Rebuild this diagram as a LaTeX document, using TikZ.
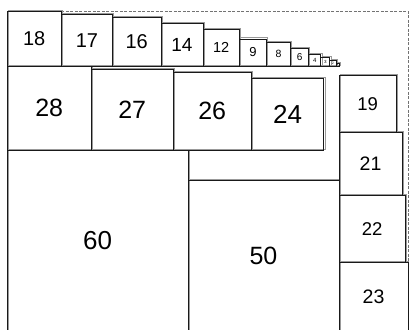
\documentclass[tikz,border=0pt]{standalone}
\usepackage{fontspec}
\setmainfont{Liberation Sans}
\begin{document}
\begin{tikzpicture}[x=3.017pt,y=-3.017pt,
  sqbox/.style={draw=black!90, line width=0.7pt},
  shadow/.style={draw=black!40, line width=0.6pt},
  frame/.style={draw=black!55, dashed, line width=0.6pt, dash pattern=on 3pt off 1.5pt}]
\useasboundingbox (-2.32,-21.88) rectangle (133.24,87.2);
\draw[frame] (18,-18) -- (133.1,-18) -- (133.1,90);
\foreach \x/\y/\s/\f in {0/-18/18/20, 18/-17/17/20, 35/-16/16/20, 51/-14/14/19,
  65/-12/12/14.5, 77/-9/9/13, 86/-8/8/10.5, 94/-6/6/10, 100/-4/4/6, 104/-3/3/4.5,
  107/-2/2/3.5, 109/-1/1/2,
  0/0/28/25, 28/1/27/25, 55/2/26/25, 81/4/24/26,
  110/3/19/18.5, 110/22/21/19.5, 110/43/22/18.5, 110/65/23/19.5,
  0/28/60/26, 60/38/50/25}{
  \draw[shadow] (\x+0.35,\y-0.35) rectangle (\x+\s+0.35,\y+\s-0.35);
}
\foreach \x/\y/\s/\f in {0/-18/18/20, 18/-17/17/20, 35/-16/16/20, 51/-14/14/19,
  65/-12/12/14.5, 77/-9/9/13, 86/-8/8/10.5, 94/-6/6/10, 100/-4/4/6, 104/-3/3/4.5,
  107/-2/2/3.5, 109/-1/1/2,
  0/0/28/25, 28/1/27/25, 55/2/26/25, 81/4/24/26,
  110/3/19/18.5, 110/22/21/19.5, 110/43/22/18.5, 110/65/23/19.5,
  0/28/60/26, 60/38/50/25}{
  \draw[sqbox] (\x,\y) rectangle (\x+\s,\y+\s);
  \node[inner sep=0pt, font=\fontsize{\f}{\f}\selectfont] (sq\s) at (\x+\s/2,\y+\s/2) {\s};
}
\end{tikzpicture}
\end{document}
